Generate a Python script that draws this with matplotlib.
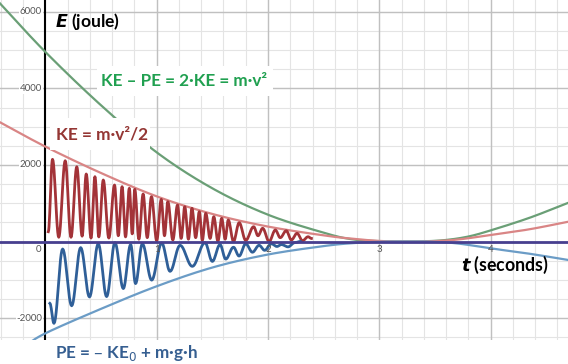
import numpy as np
import matplotlib.pyplot as plt
from matplotlib.patches import Rectangle

plt.rcParams["font.family"] = ["Lato", "DejaVu Sans"]

# --------------------------
# data (t in s, E in joule)
# --------------------------
green_t = [-0.41, 0.0, 0.5, 1.0, 1.5, 2.0, 2.5, 2.75, 3.0, 3.2, 3.4, 3.6, 3.8, 4.0, 4.35, 4.7]
green_E = [6230, 4954, 3560, 2330, 1390, 700, 230, 60, 8, 0, 5, 40, 130, 290, 620, 1014]

ke_env_t = [-0.41, 0.0, 0.5, 1.0, 1.5, 2.0, 2.5, 2.75, 3.0, 3.2, 3.45, 3.7, 4.0, 4.35, 4.7]
ke_env_E = [3120, 2480, 1790, 1180, 720, 390, 160, 75, 15, 0, 5, 50, 170, 320, 518]

pe_env_t = [-0.2, 0.0, 0.5, 1.0, 1.5, 2.0, 2.5, 2.75, 3.0, 3.2, 3.45, 3.7, 4.0, 4.35, 4.7]
pe_env_E = [-2760, -2400, -1760, -1170, -680, -340, -120, -45, -8, 0, -5, -50, -180, -320, -484]

# extrema of the oscillating KE trace
ke_t = [0.026, 0.064, 0.12, 0.178, 0.23, 0.282, 0.33, 0.367, 0.41, 0.445, 0.48, 0.52, 0.57, 0.621, 0.655, 0.689, 0.72, 0.754, 0.78, 0.803, 0.84, 0.878, 0.915, 0.953, 1.0, 1.041, 1.07, 1.1, 1.145, 1.187, 1.22, 1.252, 1.285, 1.317, 1.35, 1.383, 1.41, 1.441, 1.48, 1.513, 1.55, 1.584, 1.615, 1.643, 1.69, 1.741, 1.80, 1.871, 1.91, 1.952, 2.01, 2.066, 2.11, 2.164, 2.21, 2.261, 2.31, 2.36, 2.39]
ke_E = [256, 2148, 110, 2112, 110, 1955, 140, 1764, 90, 1694, 120, 1608, 90, 1477, 150, 1433, 120, 1390, 200, 1364, 60, 1242, 100, 1172, 20, 1102, 150, 1040, 40, 954, 80, 910, 60, 868, 100, 779, 30, 737, 80, 648, 10, 606, 60, 562, 0, 491, 30, 387, 150, 345, 0, 300, 100, 282, 40, 214, 20, 125, 80]

# extrema of the oscillating PE trace
pe_t = [0.04, 0.077, 0.155, 0.236, 0.317, 0.396, 0.475, 0.55, 0.625, 0.70, 0.766, 0.81, 0.871, 0.955, 1.045, 1.12, 1.21, 1.32, 1.434, 1.50, 1.569, 1.62, 1.69, 1.74, 1.80, 1.86, 1.92, 1.97, 2.03, 2.08, 2.12, 2.18, 2.24, 2.29]
pe_E = [-1617, -2139, -196, -1680, -160, -1450, -60, -1440, -30, -1230, -80, -1100, -60, -1010, -40, -780, -100, -650, -30, -520, -80, -460, -150, -380, -60, -280, -100, -230, -60, -130, -80, -140, -30, 0]

y_ticks = [6000, 4000, 2000, -2000]
x_ticks = [1, 2, 3, 4]


def smooth(tp, ep, n=24):
    # catmull-rom through the read points
    p = np.column_stack([tp, ep]).astype(float)
    p = np.vstack([2 * p[0] - p[1], p, 2 * p[-1] - p[-2]])
    out = []
    for i in range(1, len(p) - 2):
        p0, p1, p2, p3 = p[i - 1], p[i], p[i + 1], p[i + 2]
        for s in np.linspace(0, 1, n, endpoint=False):
            out.append(0.5 * ((2 * p1) + (-p0 + p2) * s + (2 * p0 - 5 * p1 + 4 * p2 - p3) * s ** 2
                              + (-p0 + 3 * p1 - 3 * p2 + p3) * s ** 3))
    out.append(p[-2])
    out = np.array(out)
    return out[:, 0], out[:, 1]


def wave(tp, ep, n=12):
    # half-cosine between consecutive extrema
    xs, ys = [], []
    for i in range(len(tp) - 1):
        s = np.linspace(0, 1, n, endpoint=False)
        xs.extend(tp[i] + (tp[i + 1] - tp[i]) * s)
        ys.extend(ep[i] + (ep[i + 1] - ep[i]) * (1 - np.cos(np.pi * s)) / 2)
    xs.append(tp[-1])
    ys.append(ep[-1])
    return xs, ys


# pixel -> data (for the label boxes)
def px_t(x):
    return (x - 45.4) / 111.3


def px_E(y):
    return (241.5 - y) * 26.14


fig = plt.figure(figsize=(5.68, 3.64), dpi=100)
ax = fig.add_axes([0, 24 / 364, 1, 340 / 364])
ax.set_xlim(px_t(0), px_t(568))
ax.set_ylim(px_E(340), px_E(0))

# grid like a graphing calculator
for v in np.arange(-0.4, 4.8, 0.2):
    ax.axvline(v, color="#e4e4e4", lw=0.8, zorder=0)
for v in np.arange(-2500, 6500, 500):
    ax.axhline(v, color="#e4e4e4", lw=0.8, zorder=0)
for v in range(1, 5):
    ax.axvline(v, color="#c0c0c0", lw=1, zorder=0)
for v in [-2000, 2000, 4000, 6000]:
    ax.axhline(v, color="#c0c0c0", lw=1, zorder=0)
ax.axvline(0, color="black", lw=1.5, zorder=1)

gx, gy = smooth(green_t, green_E)
ax.plot(gx, gy, color="#6a9f76", lw=1.6, zorder=2)
kx, ky = smooth(ke_env_t, ke_env_E)
ax.plot(kx, ky, color="#d98585", lw=1.6, zorder=2)
px, py = smooth(pe_env_t, pe_env_E)
ax.plot(px, py, color="#6b9cc6", lw=1.6, zorder=2)

wx, wy = wave(ke_t, ke_E)
ax.plot(wx, wy, color="#a33338", lw=2, zorder=3)
bx, by = wave(pe_t, pe_E)
ax.plot(bx, by, color="#2f5f98", lw=2, zorder=3)

ax.axhline(0, color="#473f8f", lw=2, zorder=4)

for v in y_ticks:
    ax.text(-0.03, v, str(v), ha="right", va="center", fontsize=7, color="#555555",
            bbox=dict(facecolor="white", edgecolor="none", pad=0.5), zorder=5)
ax.text(-0.04, -90, "0", ha="right", va="top", fontsize=7, color="#555555", zorder=5)
for v in x_ticks:
    ax.text(v, -90, str(v), ha="center", va="top", fontsize=7, color="#555555", zorder=5)

ax.set_xticks([])
ax.set_yticks([])
for s in ax.spines.values():
    s.set_visible(False)

# white boxes behind the two coloured labels
for x0, y0, x1, y1 in [(97, 66, 273, 96), (50, 118, 150, 150)]:
    ax.add_patch(Rectangle((px_t(x0), px_E(y1)), px_t(x1) - px_t(x0), px_E(y0) - px_E(y1),
                           facecolor="white", edgecolor="none", zorder=5))

ax.text(px_t(55), px_E(22), r"$\boldsymbol{E}$ (joule)", fontsize=12.5, fontweight="bold",
        va="center", zorder=6)
ax.text(px_t(101), px_E(81), "KE \u2013 PE = 2\u00b7KE = m\u00b7v\u00b2", fontsize=12.3, fontweight="bold",
        color="#20a050", va="center", zorder=6)
ax.text(px_t(56), px_E(134), "KE = m\u00b7v\u00b2/2", fontsize=12.4, fontweight="bold",
        color="#943634", va="center", zorder=6)
ax.text(px_t(461), px_E(265), r"$\boldsymbol{t}$ (seconds)", fontsize=12.8, fontweight="bold",
        va="center", zorder=6)
fig.text(55 / 568, 1 - 353 / 364, "PE = \u2013 KE$_0$ + m\u00b7g\u00b7h", fontsize=12.3, fontweight="bold",
         color="#365f91", va="center")

fig.savefig("out.png", dpi=100)
